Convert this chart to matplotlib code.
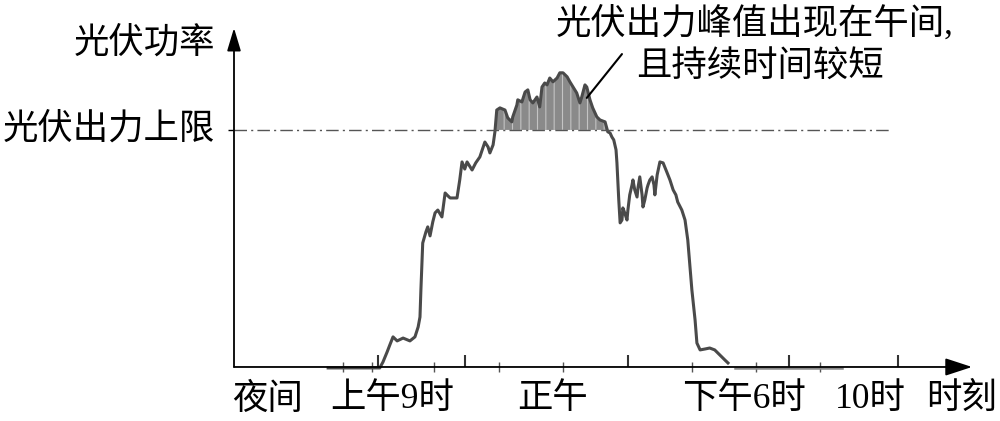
import matplotlib
matplotlib.use("Agg")
import matplotlib.pyplot as plt
import numpy as np

# ---- data (time in hours, power in per-unit of the PV output cap) ----
time_h = [7.91, 9.04, 9.11, 9.20, 9.26, 9.33, 9.42, 9.55, 9.70, 9.81, 9.88, 9.92, 9.94, 9.98,
          10.05, 10.09, 10.14, 10.20, 10.25, 10.31, 10.40, 10.47, 10.53, 10.58, 10.73, 10.79,
          10.84, 10.90, 10.95, 11.06, 11.14, 11.23, 11.34, 11.41, 11.45, 11.52, 11.56, 11.60,
          11.67, 11.78, 11.84, 11.93, 11.95, 12.04, 12.06, 12.15, 12.22, 12.28, 12.33, 12.39,
          12.48, 12.54, 12.59, 12.65, 12.70, 12.76, 12.83, 12.92, 12.98, 13.05, 13.14, 13.20,
          13.27, 13.35, 13.42, 13.46, 13.53, 13.57, 13.64, 13.70, 13.79, 13.86, 13.97, 14.03,
          14.08, 14.12, 14.16, 14.21, 14.23, 14.27, 14.30, 14.34, 14.36, 14.40, 14.45, 14.47,
          14.51, 14.56, 14.58, 14.62, 14.67, 14.69, 14.73, 14.78, 14.80, 14.84, 14.89, 14.91,
          14.95, 15.00, 15.04, 15.06, 15.11, 15.17, 15.24, 15.32, 15.39, 15.46, 15.52, 15.56,
          15.65, 15.72, 15.78, 15.87, 15.94, 15.98, 16.05, 16.16, 16.26, 16.37, 16.48, 16.59,
          16.66]
power_pu = [-0.004, -0.004, 0.021, 0.063, 0.093, 0.127, 0.110, 0.122, 0.110, 0.127, 0.169, 0.211,
            0.325, 0.523, 0.570, 0.591, 0.553, 0.612, 0.650, 0.662, 0.633, 0.734, 0.722, 0.713,
            0.713, 0.789, 0.865, 0.835, 0.865, 0.831, 0.861, 0.886, 0.949, 0.928, 0.903, 0.937,
            0.992, 1.084, 1.093, 1.084, 1.051, 1.034, 1.055, 1.105, 1.127, 1.118, 1.160, 1.169,
            1.127, 1.114, 1.139, 1.097, 1.181, 1.198, 1.190, 1.219, 1.203, 1.219, 1.241, 1.241,
            1.224, 1.203, 1.181, 1.156, 1.114, 1.139, 1.190, 1.181, 1.127, 1.093, 1.055, 1.042,
            1.034, 0.992, 0.987, 0.970, 0.958, 0.916, 0.861, 0.705, 0.608, 0.620, 0.671, 0.650,
            0.620, 0.662, 0.726, 0.768, 0.789, 0.747, 0.717, 0.755, 0.802, 0.726, 0.675, 0.705,
            0.755, 0.768, 0.789, 0.802, 0.768, 0.726, 0.810, 0.865, 0.861, 0.823, 0.789, 0.747,
            0.726, 0.696, 0.662, 0.620, 0.536, 0.325, 0.198, 0.101, 0.072, 0.076, 0.080, 0.072,
            0.051, 0.030, 0.017]
night_tail_h = [16.81, 19.15]
night_tail_p = [-0.004, -0.004]

cap_pu = 1.0
cap_span_h = [5.85, 20.20]

major_ticks_h = [9.00, 10.90, 14.47, 18.00, 20.38]
minor_ticks_h = [8.23, 8.87, 10.23, 11.65, 13.05, 15.87, 17.27, 18.67]

x_labels = ["夜间", "上午9时", "正午", "下午6时", "10时", "时刻"]
x_label_h = [6.59, 9.31, 12.83, 17.01, 19.77, 21.78]

y_title = "光伏功率"
cap_label = "光伏出力上限"
note_line1 = "光伏出力峰值出现在午间,"
note_line2 = "且持续时间较短"

FONT = ['Liberation Serif', 'Noto Sans CJK SC', 'DejaVu Sans']
plt.rcParams['font.family'] = FONT
FS = 25.5

fig = plt.figure(figsize=(10, 4.21), dpi=100)
ax = fig.add_axes([0.234, 0.1283, 0.738, 0.8052])
ax.set_xlim(5.85, 22.0)
ax.set_ylim(0, 1.43)
for s in ax.spines.values():
    s.set_visible(False)

t = np.array(time_h)
p = np.array(power_pu)

plt.rcParams['hatch.linewidth'] = 0.8
# shaded area above cap
ax.fill_between(t, p, cap_pu, where=p >= cap_pu, interpolate=True,
                facecolor='#8a8a8a', edgecolor='#c4c4c4', hatch='||', linewidth=0, zorder=2)
# curve
ax.plot(t, p, color='#4a4a4a', lw=2.2, zorder=3, clip_on=False)
ax.plot(night_tail_h, night_tail_p, color='#8a8a8a', lw=1.8, zorder=3, clip_on=False)
# cap line
ax.plot(cap_span_h, [cap_pu, cap_pu], color='#555555', lw=1.0,
        linestyle=(0, (9, 3, 1.5, 3)), zorder=4)

# axes with arrows
ax.annotate('', xy=(1, 0), xytext=(0, 0), xycoords='axes fraction',
            arrowprops=dict(arrowstyle='-|>,head_length=0.55,head_width=0.18',
                            mutation_scale=30, color='k', lw=1.3,
                            shrinkA=0, shrinkB=0), zorder=5)
ax.annotate('', xy=(0, 1), xytext=(0, 0), xycoords='axes fraction',
            arrowprops=dict(arrowstyle='-|>,head_length=0.5,head_width=0.15',
                            mutation_scale=28, color='k', lw=1.3,
                            shrinkA=0, shrinkB=0), zorder=5)

# ticks
ax.set_xticks(major_ticks_h)
ax.set_xticks(minor_ticks_h, minor=True)
ax.tick_params(axis='x', which='major', direction='in', length=9, width=1.5,
               color='#333333', labelbottom=False)
ax.tick_params(axis='x', which='minor', direction='inout', length=7, width=1.0,
               color='#555555')
ax.set_yticks([cap_pu])
ax.tick_params(axis='y', which='major', direction='out', length=4, width=1.0,
               labelleft=False)

# x labels
for lab, h in zip(x_labels, x_label_h):
    ax.text(h, -0.097, lab, ha='center', va='center', fontsize=FS,
            transform=ax.get_xaxis_transform(), clip_on=False)

# y texts
fig.text(0.215, 1 - 44 / 421, y_title, ha='right', va='center', fontsize=FS)
ax.text(-0.026, cap_pu, cap_label, ha='right', va='center', fontsize=FS,
        transform=ax.get_yaxis_transform())

# annotation
fig.text(0.556, 1 - 24 / 421, note_line1, ha='left', va='center', fontsize=FS)
fig.text(0.636, 1 - 68 / 421, note_line2, ha='left', va='center', fontsize=FS)
ax.annotate('', xy=(13.57, 1.135), xytext=(14.34, 1.32),
            arrowprops=dict(arrowstyle='-', color='k', lw=1.5, shrinkA=0, shrinkB=0),
            annotation_clip=False)

fig.savefig('out.png', dpi=100)
